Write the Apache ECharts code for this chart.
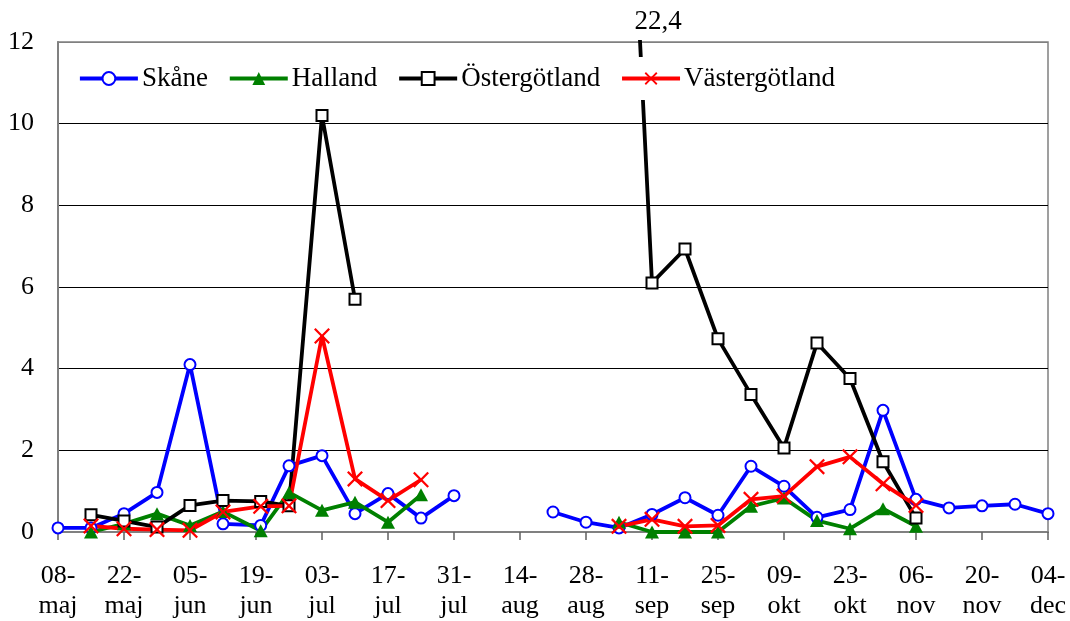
<!DOCTYPE html>
<html><head><meta charset="utf-8">
<script src="https://cdn.jsdelivr.net/npm/echarts@6/dist/echarts.min.js"></script>
<style>html,body{margin:0;padding:0;background:#fff}#c{width:1070px;height:621px}</style>
</head><body><div id="c"></div>
<script>
// sampling days counted from 08-maj
const sampleDays = [0,7,14,21,28,35,43,49,56,63,70,77,84,91,98,105,112,119,126,133,140,147,154,161,168,175,182,189,196,203,210];
const tickLabels = ['08-maj','22-maj','05-jun','19-jun','03-jul','17-jul','31-jul','14-aug','28-aug','11-sep','25-sep','09-okt','23-okt','06-nov','20-nov','04-dec'];
const skane = [0.1,0.1,0.45,0.97,4.1,0.2,0.16,1.62,1.87,0.45,0.94,0.34,0.89,null,null,0.49,0.24,0.1,0.43,0.84,0.41,1.61,1.12,0.36,0.55,2.98,0.8,0.59,0.64,0.68,0.45];
const halland = [null,0,0.2,0.45,0.16,0.5,0.03,0.97,0.53,0.73,0.24,0.91,null,null,null,null,null,0.24,0,0,0,0.63,0.83,0.28,0.08,0.57,0.14,null,null,null,null];
const ostergotland = [null,0.42,0.27,0.12,0.65,0.77,0.75,0.64,10.2,5.7,null,null,null,null,null,null,null,22.4,6.1,6.93,4.73,3.37,2.06,4.63,3.76,1.72,0.34,null,null,null,null];
const vastergotland = [null,0.15,0.08,0.06,0.04,0.49,0.63,0.64,4.8,1.3,0.77,1.28,null,null,null,null,null,0.14,0.31,0.14,0.16,0.8,0.88,1.6,1.84,1.18,0.65,null,null,null,null];

const Y_MAX = 12;
const toPairs = vals => sampleDays.map((d, i) => [d, vals[i] == null ? '-' : vals[i]]);
const peakVal = Math.max(...ostergotland.filter(v => v != null));
const peakDay = sampleDays[ostergotland.indexOf(peakVal)];
const FONT = 'Liberation Serif';
const X_PATH = 'path://M0,1 L1,0 L5,4 L9,0 L10,1 L6,5 L10,9 L9,10 L5,6 L1,10 L0,9 L4,5 Z';
const LW = 3.8;

const chart = echarts.init(document.getElementById('c'), null, {renderer: 'canvas'});
chart.setOption({
  animation: false,
  backgroundColor: '#fff',
  textStyle: {fontFamily: FONT, color: '#000'},
  grid: {left: 58, right: 22, top: 42, bottom: 88, show: true, borderColor: '#808080', borderWidth: 1.5, backgroundColor: 'transparent'},
  legend: {
    left: 70, top: 57,
    padding: [8, 8, 8, 8],
    backgroundColor: '#fff',
    itemWidth: 58, itemHeight: 16, itemGap: 20,
    lineStyle: {width: 'inherit'},
    textStyle: {fontFamily: FONT, fontSize: 27, color: '#000', padding: [0, 0, 0, -1]},
    data: ['Skåne', 'Halland', 'Östergötland', 'Västergötland']
  },
  xAxis: {
    type: 'value', min: 0, max: 210, interval: 14,
    axisLine: {show: true, lineStyle: {color: '#808080', width: 2}},
    axisTick: {show: true, length: 8, lineStyle: {color: '#606060', width: 1.5}},
    splitLine: {show: false},
    axisLabel: {
      fontFamily: FONT, fontSize: 26, color: '#000', lineHeight: 30, margin: 29,
      formatter: v => { const t = tickLabels[Math.round(v / 14)]; return t ? t.replace('-', '-\n') : ''; }
    }
  },
  yAxis: {
    type: 'value', min: 0, max: Y_MAX, interval: 2,
    axisLine: {show: true, lineStyle: {color: '#808080', width: 2}},
    axisTick: {show: false},
    splitLine: {show: true, lineStyle: {color: ['#808080','#000','#000','#000','#000','#000','#808080'], width: 1}},
    axisLabel: {fontFamily: FONT, fontSize: 26, color: '#000', margin: 24}
  },
  series: [
    {
      name: 'Skåne', type: 'line', data: toPairs(skane), connectNulls: false,
      symbol: 'circle', symbolSize: 11, showAllSymbol: true,
      lineStyle: {color: '#0000FF', width: LW},
      itemStyle: {color: '#fff', borderColor: '#0000FF', borderWidth: 2}
    },
    {
      name: 'Halland', type: 'line', data: toPairs(halland), connectNulls: false,
      symbol: 'triangle', symbolSize: [14, 13], showAllSymbol: true,
      lineStyle: {color: '#008000', width: LW},
      itemStyle: {color: '#008000', borderColor: '#008000', borderWidth: 0}
    },
    {
      name: 'Östergötland', type: 'line', data: toPairs(ostergotland), connectNulls: false,
      symbol: 'rect', symbolSize: 11, showAllSymbol: true,
      lineStyle: {color: '#000', width: LW},
      itemStyle: {color: '#fff', borderColor: '#000', borderWidth: 2},
      markPoint: {
        symbol: 'circle', symbolSize: 1,
        itemStyle: {color: 'rgba(0,0,0,0)'},
        label: {
          show: true, position: 'top', distance: 4, offset: [39, -2],
          fontFamily: FONT, fontSize: 27, color: '#000',
          formatter: p => String(p.value).replace('.', ',')
        },
        data: [{coord: [peakDay, Y_MAX], value: peakVal}]
      }
    },
    {
      name: 'Västergötland', type: 'line', data: toPairs(vastergotland), connectNulls: false,
      symbol: X_PATH, symbolSize: 16, showAllSymbol: true,
      lineStyle: {color: '#FF0000', width: LW},
      itemStyle: {color: '#FF0000', borderWidth: 0}
    }
  ]
});
</script>
</body></html>
